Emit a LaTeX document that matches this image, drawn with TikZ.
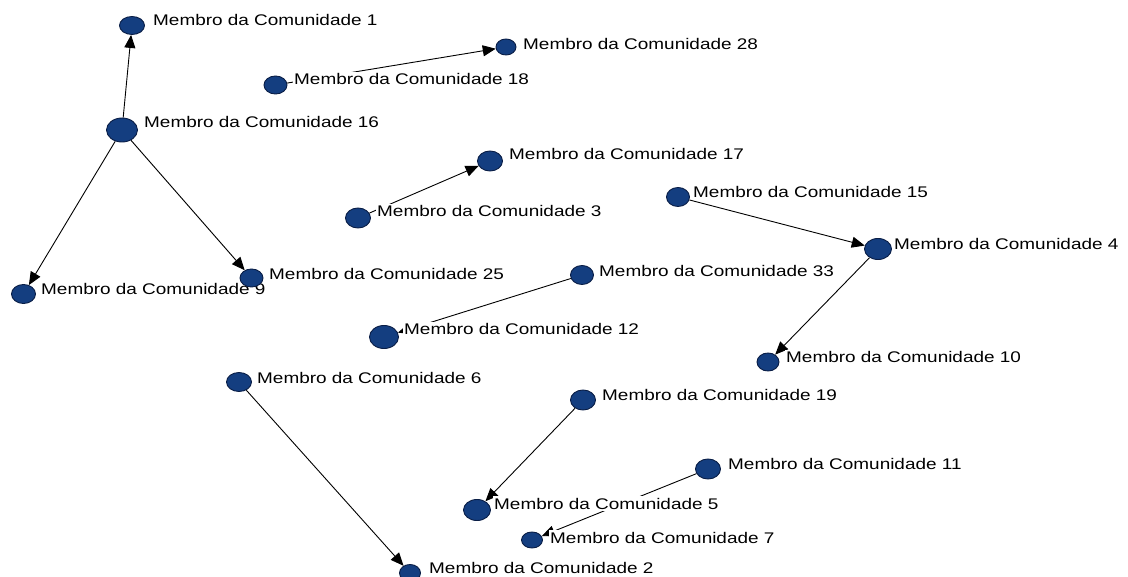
\documentclass[tikz,border=0pt]{standalone}
\usepackage{fontspec}
\newfontfamily\labfont[FakeStretch=1.23]{Liberation Sans}
\usetikzlibrary{shapes.geometric,arrows.meta}
\pgfdeclarelayer{bg}
\pgfdeclarelayer{edges}
\pgfdeclarelayer{labels}
\pgfsetlayers{bg,edges,labels,main}
\definecolor{nodefill}{RGB}{20,62,128}
\definecolor{nodeline}{RGB}{10,30,70}
\tikzset{
  member/.style={ellipse, fill=nodefill, draw=nodeline, line width=0.9pt, inner sep=0pt},
  tag/.style={anchor=base west, fill=white, inner xsep=1pt, inner ysep=1.5pt,
              font=\labfont\fontsize{15.4}{18}\selectfont},
  link/.style={line width=0.9pt, -{Triangle[length=13pt,width=11pt]}},
}
% id, x, y, width, height, label x, label baseline y
\newcommand\membro[7]{%
  \node[member, minimum width=#4pt, minimum height=#5pt] (n#1) at (#2,#3) {};
  \begin{pgfonlayer}{labels}
    \node[tag] (l#1) at (#6,#7) {Membro da Comunidade #1};
  \end{pgfonlayer}}
\begin{document}
\begin{tikzpicture}[x=1pt,y=-1pt]
\useasboundingbox (0,0) rectangle (1128,577);
\begin{pgfonlayer}{bg}
  \fill[white] (0,0) rectangle (1128,577);
\end{pgfonlayer}

\membro{1}{132}{25.5}{25}{18}{152}{26}
\membro{16}{122}{130}{31}{24}{143}{128}
\membro{9}{23.5}{294}{24}{19}{40}{295}
\membro{25}{251.5}{278}{23}{18}{268}{280}
\membro{18}{275.5}{85}{23}{18}{293}{85}
\membro{28}{506}{47}{20}{16}{522}{50}
\membro{17}{490}{161}{25}{20}{508}{160}
\membro{3}{358}{218}{25}{20}{376}{217}
\membro{15}{678}{197}{23}{19}{692}{198}
\membro{4}{878}{249}{27}{21}{893}{250}
\membro{33}{582}{275}{23}{19}{598}{277}
\membro{12}{384}{337}{29}{23}{403}{335}
\membro{10}{768}{362}{22}{18}{785}{363}
\membro{6}{239}{382}{25}{19}{256}{384}
\membro{19}{583}{400}{25}{20}{601}{401}
\membro{11}{708}{469}{25}{20}{727}{469}
\membro{5}{477}{510}{27}{21}{493}{509}
\membro{7}{532}{540}{21}{16}{549}{543}
\membro{2}{410}{573}{21}{17}{428}{573}

\begin{pgfonlayer}{edges}
  \draw[link] (n16) -- (n1);
  \draw[link] (n16) -- (n9);
  \draw[link] (n16) -- (n25);
  \draw[link] (n18) -- (n28);
  \draw[link] (n3) -- (n17);
  \draw[link] (n15) -- (n4);
  \draw[link] (n4) -- (n10);
  \draw[link] (n33) -- (n12);
  \draw[link] (n6) -- (n2);
  \draw[link] (n19) -- (n5);
  \draw[link] (n11) -- (n7);
\end{pgfonlayer}
\end{tikzpicture}
\end{document}
